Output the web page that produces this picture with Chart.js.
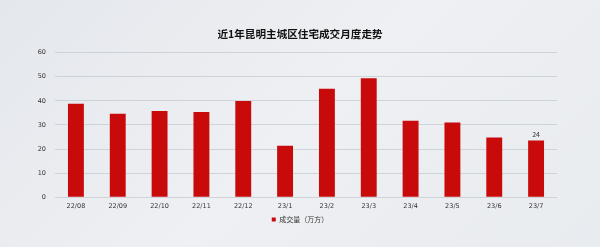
<!DOCTYPE html>
<html>
<head>
<meta charset="utf-8">
<script src="https://cdn.jsdelivr.net/npm/chart.js@4/dist/chart.umd.min.js"></script>
<style>
html,body{margin:0;padding:0;}
body{width:600px;height:247px;background:linear-gradient(135deg,#e4e7ec 0%,#eef0f3 50%,#e8ebef 100%);overflow:hidden;}
#wrap{position:absolute;left:0;top:0;width:600px;height:247px;}
</style>
</head>
<body>
<div id="wrap"><canvas id="c" width="600" height="247"></canvas></div>
<script>
const categories = ["22/08","22/09","22/10","22/11","22/12","23/1","23/2","23/3","23/4","23/5","23/6","23/7"];
const volume = [38.8, 34.7, 35.8, 35.4, 40.0, 21.4, 45.0, 49.4, 31.8, 31.0, 24.8, 23.5];
const volumeLabels = ["","","","","","","","","","","","24"];
const yTicks = [0,10,20,30,40,50,60];
const seriesName = "成交量（万方）";
const titleText = "近1年昆明主城区住宅成交月度走势";

const labelPlugin = {
  id: 'barLabels',
  afterDatasetsDraw(chart) {
    const ctx = chart.ctx;
    const meta = chart.getDatasetMeta(0);
    ctx.save();
    ctx.font = '7px "Noto Sans CJK SC", sans-serif';
    ctx.fillStyle = '#333';
    ctx.textAlign = 'center';
    ctx.textBaseline = 'bottom';
    meta.data.forEach((bar, i) => {
      const t = volumeLabels[i];
      if (t) ctx.fillText(t, bar.x, bar.y - 3);
    });
    ctx.restore();
  }
};

new Chart(document.getElementById('c'), {
  type: 'bar',
  data: {
    labels: categories,
    datasets: [{
      label: seriesName,
      data: volume,
      backgroundColor: '#c80a0a',
      borderWidth: 0,
      categoryPercentage: 0.76,
      barPercentage: 0.5,
      yAxisID: 'y'
    }]
  },
  options: {
    responsive: false,
    animation: false,
    layout: { padding: { left: 28, right: 28, top: 6, bottom: 14 } },
    plugins: {
      title: {
        display: true,
        text: titleText,
        color: '#111',
        font: { family: '"Noto Sans CJK SC", sans-serif', size: 10.6, weight: 'bold' },
        padding: { top: 22, bottom: 12 }
      },
      legend: {
        position: 'bottom',
        labels: {
          boxWidth: 4, boxHeight: 4,
          color: '#333',
          padding: 1,
          font: { family: '"Noto Sans CJK SC", sans-serif', size: 7 }
        }
      },
      tooltip: { enabled: false }
    },
    scales: {
      x: {
        grid: { display: false, drawTicks: false, tickLength: 0 },
        border: { display: false },
        ticks: { color: '#333', font: { family: '"DejaVu Sans", sans-serif', size: 6.5 }, padding: 5, maxRotation: 0, autoSkip: false }
      },
      y: {
        position: 'left',
        min: 0, max: 60,
        afterBuildTicks(axis) { axis.ticks = yTicks.map(v => ({ value: v })); },
        afterFit(axis) { axis.width = 27; },
        grid: { color: 'rgba(195,200,208,0.7)', lineWidth: 1, drawTicks: false },
        border: { display: false },
        ticks: { color: '#333', font: { family: '"DejaVu Sans", sans-serif', size: 6.5 }, padding: 9 }
      },
      yRight: {
        position: 'right',
        min: 0, max: 60,
        afterFit(axis) { axis.width = 15; },
        grid: { display: false, drawTicks: false },
        border: { display: false },
        ticks: { display: false }
      }
    }
  },
  plugins: [labelPlugin]
});
</script>
</body>
</html>
